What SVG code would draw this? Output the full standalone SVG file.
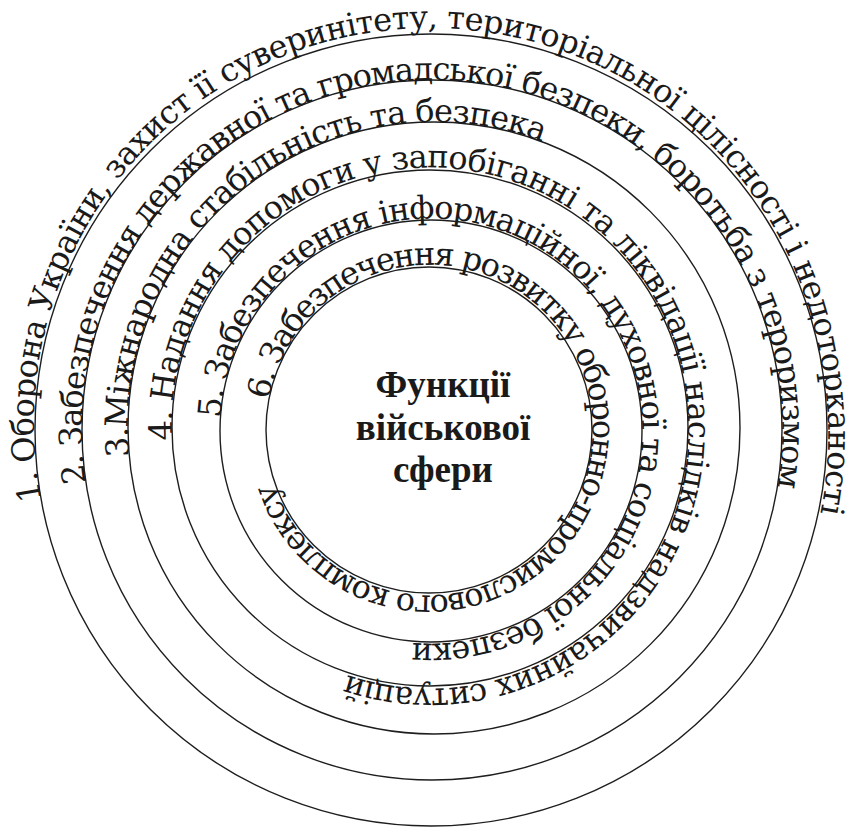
<svg xmlns="http://www.w3.org/2000/svg" width="850" height="828" viewBox="0 0 850 828">
<style>
.ring{fill:none;stroke:#1e1e1e;stroke-width:1.4}
.rt{font-family:"DejaVu Serif","Liberation Serif",serif;font-size:32px;fill:#1a1a1a}
.ct{font-family:"Liberation Serif","Times New Roman",serif;font-weight:bold;font-size:37px;fill:#1a1a1a;text-anchor:middle}
</style>
<defs>
<path id="p1" d="M41.3,500.1 A396,396 0 1 1 820.7,359.9 A396,396 0 1 1 41.3,500.1"/>
<path id="p2" d="M86.0,482.9 A350,350 0 1 1 778.0,377.1 A350,350 0 1 1 86.0,482.9"/>
<path id="p3" d="M129.3,456.3 A306,306 0 1 1 738.7,399.7 A306,306 0 1 1 129.3,456.3"/>
<path id="p4" d="M172.3,440.2 A258,258 0 1 1 687.7,415.8 A258,258 0 1 1 172.3,440.2"/>
<path id="p5" d="M220.4,418.1 A211,211 0 1 1 641.6,443.9 A211,211 0 1 1 220.4,418.1"/>
<path id="p6" d="M268.8,400.0 A163,163 0 1 1 589.2,460.0 A163,163 0 1 1 268.8,400.0"/>
</defs>
<rect width="850" height="828" fill="#ffffff"/>
<g id="ring1">
<circle class="ring" cx="431" cy="430" r="396"/>
<text class="rt"><textPath href="#p1" textLength="1410" lengthAdjust="spacing">1. Оборона України, захист її суверинітету, територіальної цілісності і недоторканості</textPath></text>
</g>
<g id="ring2">
<circle class="ring" cx="432" cy="430" r="350"/>
<text class="rt"><textPath href="#p2" textLength="1210" lengthAdjust="spacing">2. Забезпечення державної та громадської безпеки, боротьба з тероризмом</textPath></text>
</g>
<g id="ring3">
<circle class="ring" cx="434" cy="428" r="306"/>
<text class="rt"><textPath href="#p3" textLength="620" lengthAdjust="spacing">3.Міжнародна стабільність та безпека</textPath></text>
</g>
<g id="ring4">
<circle class="ring" cx="430" cy="428" r="258"/>
<text class="rt"><textPath href="#p4" textLength="1320" lengthAdjust="spacing">4. Надання допомоги у запобіганні та ліквідації наслідків надзвичайних ситуацій</textPath></text>
</g>
<g id="ring5">
<circle class="ring" cx="431" cy="431" r="211"/>
<text class="rt"><textPath href="#p5" textLength="1005" lengthAdjust="spacing">5. Забезпечення інформаційної, духовної та соціальної безпеки</textPath></text>
</g>
<g id="ring6">
<circle class="ring" cx="429" cy="430" r="163"/>
<text class="rt"><textPath href="#p6" textLength="949" lengthAdjust="spacing">6. Забезпечення розвитку оборонно-промислового комплексу</textPath></text>
</g>
<g id="center">
<text class="ct" x="443" y="397">Функції</text>
<text class="ct" x="443" y="440">військової</text>
<text class="ct" x="443" y="482">сфери</text>
</g>
</svg>
